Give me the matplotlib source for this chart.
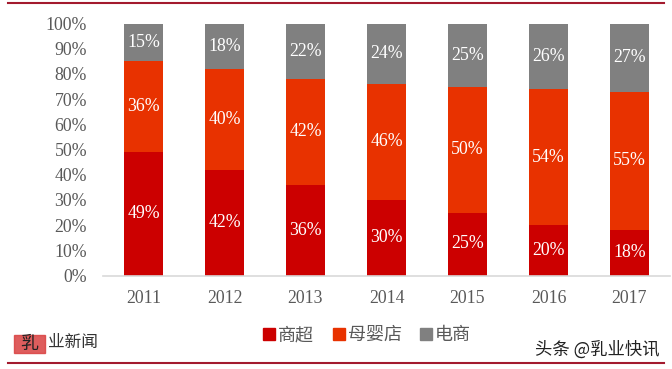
import matplotlib
matplotlib.use("Agg")
import matplotlib.pyplot as plt
from matplotlib.patches import Rectangle
from matplotlib.lines import Line2D
import numpy as np

years = ["2011", "2012", "2013", "2014", "2015", "2016", "2017"]
supermarket = [49, 42, 36, 30, 25, 20, 18]
baby_store = [36, 40, 42, 46, 50, 54, 55]
ecommerce = [15, 18, 22, 24, 25, 26, 27]
series_names = ["商超", "母婴店", "电商"]
colors = ["#CC0000", "#E83200", "#808080"]
yticks = [0, 10, 20, 30, 40, 50, 60, 70, 80, 90, 100]

W, H = 672, 369
fig = plt.figure(figsize=(W / 100, H / 100), dpi=100)
ax = fig.add_axes([103 / W, 1 - 275.5 / H, (670 - 103) / W, (275.5 - 23.5) / H])

x = np.arange(len(years))
bottom = np.zeros(len(years))
serif = "Liberation Serif"
for vals, col in zip([supermarket, baby_store, ecommerce], colors):
    vals = np.array(vals, dtype=float)
    ax.bar(x, vals, bottom=bottom, width=0.48, color=col, zorder=2)
    for xi, v, b in zip(x, vals, bottom):
        ax.text(xi, b + v / 2, f"{int(v)}%", ha="center", va="center",
                color="white", fontsize=12.8, family=serif, zorder=3)
    bottom += vals

ax.set_xlim(-0.5, len(years) - 0.5)
ax.set_ylim(0, 100)
ax.set_yticks(yticks)
ax.set_yticklabels([f"{t}%" for t in yticks], family=serif, fontsize=12.8, color="#595959")
ax.set_xticks(x)
ax.set_xticklabels(years, family=serif, fontsize=12.8, color="#595959")
ax.tick_params(axis="both", length=0)
ax.tick_params(axis="y", pad=11.5)
ax.tick_params(axis="x", pad=10.5)
for s in ["top", "right", "left"]:
    ax.spines[s].set_visible(False)
ax.spines["bottom"].set_color("#D9D9D9")
ax.spines["bottom"].set_linewidth(1.2)

cjk = ["Noto Sans CJK SC", "DejaVu Sans"]
handles = [Line2D([], [], marker="s", linestyle="", markersize=8, color=c) for c in colors]
leg = fig.legend(handles, series_names, loc="center", bbox_to_anchor=(366 / W, 1 - 335 / H),
                 ncol=3, frameon=False, prop={"family": cjk, "size": 13},
                 handletextpad=0.05, columnspacing=0.9, handlelength=0.9,
                 borderpad=0, borderaxespad=0)
for t in leg.get_texts():
    t.set_color("#595959")

# top and bottom decorative lines
fig.add_artist(Line2D([8 / W, 664 / W], [1 - 3 / H, 1 - 3 / H], color="#A31A2E", lw=1.5))
fig.add_artist(Line2D([8 / W, 664 / W], [1 - 362.5 / H, 1 - 362.5 / H], color="#A31A2E", lw=1.5))

# watermark logo
fig.add_artist(Rectangle((14 / W, 1 - 353 / H), 31 / W, 18 / H, color="#D94040", alpha=0.85,
                         transform=fig.transFigure))
fig.text(29 / W, 1 - 344 / H, "乳", family=cjk, fontsize=13, color="#222222",
         ha="center", va="center")
fig.text(48 / W, 1 - 342 / H, "业新闻", family=cjk, fontsize=12, color="#333333",
         ha="left", va="center")
fig.text(660 / W, 1 - 350 / H, "头条 @乳业快讯", family=cjk, fontsize=12.5, color="#222222",
         ha="right", va="center")

fig.savefig("out.png", dpi=100)
